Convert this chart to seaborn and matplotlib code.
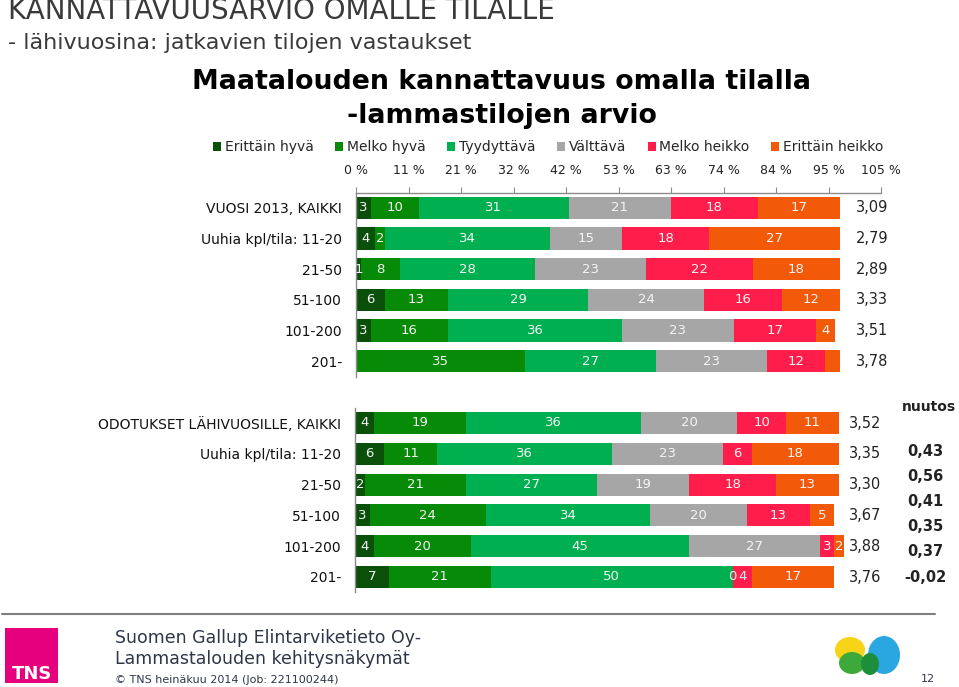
import numpy as np
import pandas as pd
import matplotlib
matplotlib.use("Agg")
import matplotlib.pyplot as plt
import seaborn as sns
from matplotlib.patches import Rectangle, Ellipse, Patch
from matplotlib.lines import Line2D

# ---------------- data ----------------
series = ["Erittäin hyvä", "Melko hyvä", "Tyydyttävä", "Välttävä", "Melko heikko", "Erittäin heikko"]
colors = ["#0a500a", "#078a07", "#00b050", "#a6a6a6", "#ff1e4b", "#f25a0a"]

top_categories = ["VUOSI 2013, KAIKKI", "Uuhia kpl/tila: 11-20", "21-50", "51-100", "101-200", "201-"]
top_erittain_hyva = [3, 4, 1, 6, 3, 0]
top_melko_hyva = [10, 2, 8, 13, 16, 35]
top_tyydyttava = [31, 34, 28, 29, 36, 27]
top_valttava = [21, 15, 23, 24, 23, 23]
top_melko_heikko = [18, 18, 22, 16, 17, 12]
top_erittain_heikko = [17, 27, 18, 12, 4, 3]
top_means = ["3,09", "2,79", "2,89", "3,33", "3,51", "3,78"]
top_hidden_labels = [(5, 5)]

bottom_categories = ["ODOTUKSET LÄHIVUOSILLE, KAIKKI", "Uuhia kpl/tila: 11-20", "21-50", "51-100", "101-200", "201-"]
bottom_erittain_hyva = [4, 6, 2, 3, 4, 7]
bottom_melko_hyva = [19, 11, 21, 24, 20, 21]
bottom_tyydyttava = [36, 36, 27, 34, 45, 50]
bottom_valttava = [20, 23, 19, 20, 27, 0]
bottom_melko_heikko = [10, 6, 18, 13, 3, 4]
bottom_erittain_heikko = [11, 18, 13, 5, 2, 17]
bottom_means = ["3,52", "3,35", "3,30", "3,67", "3,88", "3,76"]

change_header = "nuutos"
changes = ["0,43", "0,56", "0,41", "0,35", "0,37", "-0,02"]

scale_max = 105
scale_step = 10.5

# ---------------- style ----------------
sns.set_style("white")
plt.rcParams["font.family"] = ["DejaVu Sans"]

W, H = 959, 687
fig = plt.figure(figsize=(W / 100, H / 100), dpi=100)
fig.patch.set_facecolor("white")


def fx(x):
    return x / W


def fy(y):
    return 1 - y / H


XMAX = 525 / 4.84  # data units across axes width


def draw(ax, cats, data, means, hidden, show_zero, mean_x):
    df = pd.DataFrame(dict(zip(series, data)), index=cats)
    cum = df.cumsum(axis=1)
    for k in range(len(series) - 1, -1, -1):
        sns.barplot(x=cum[series[k]].values, y=cats, order=cats, orient="h",
                    color=colors[k], saturation=1, width=0.72, ax=ax,
                    edgecolor="none", linewidth=0)
    for i, c in enumerate(cats):
        for k, s in enumerate(series):
            v = df.loc[c, s]
            if (i, k) in hidden:
                continue
            if v == 0 and not show_zero:
                continue
            xc = cum.loc[c, s] - v / 2
            ax.text(xc, i, f"{v}", ha="center", va="center", color="#f4f4f4",
                    fontsize=9.5)
        ax.text(mean_x, i, means[i], ha="center", va="center", fontsize=10.5,
                color="#222222", clip_on=False)
    ax.set_xlim(0, XMAX)
    ax.set_ylim(len(cats) - 0.5, -0.5)
    ax.set_xlabel("")
    ax.set_ylabel("")
    ax.set_xticks([])
    ax.tick_params(axis="y", length=0, pad=10, labelsize=10, labelcolor="#111111")
    for sp in ["top", "right", "bottom"]:
        ax.spines[sp].set_visible(False)
    ax.spines["left"].set_color("#8c8c8c")
    ax.spines["left"].set_linewidth(1)


# top chart
ax_top = fig.add_axes([fx(356), fy(376.5), 525 / W, 184 / H])
draw(ax_top, top_categories,
     [top_erittain_hyva, top_melko_hyva, top_tyydyttava, top_valttava,
      top_melko_heikko, top_erittain_heikko],
     top_means, top_hidden_labels, False, 106.6)

ax_scale = ax_top.twiny()
ax_scale.set_xlim(0, scale_max)
ticks = np.arange(0, scale_max + 0.01, scale_step)
ax_scale.set_xticks(ticks)
ax_scale.set_xticklabels([f"{int(t + 0.5)} %" for t in ticks], fontsize=9, color="#222222")
ax_scale.tick_params(axis="x", direction="out", length=4, color="#8c8c8c", pad=7)
for sp in ["left", "right", "bottom"]:
    ax_scale.spines[sp].set_visible(False)
ax_scale.spines["top"].set_color("#8c8c8c")
ax_scale.spines["top"].set_linewidth(1)

# bottom chart
ax_bot = fig.add_axes([fx(355), fy(592.4), 525 / W, 184.8 / H])
draw(ax_bot, bottom_categories,
     [bottom_erittain_hyva, bottom_melko_hyva, bottom_tyydyttava, bottom_valttava,
      bottom_melko_heikko, bottom_erittain_heikko],
     bottom_means, [], True, 105.4)

ax_bot.text(113.0, -0.52, change_header, ha="left", va="center", fontsize=10,
            fontweight="bold", color="#222222", clip_on=False)
change_rows = np.linspace(0.91, 5.0, len(changes))
for yv, t in zip(change_rows, changes):
    ax_bot.text(117.8, yv, t, ha="center", va="center", fontsize=10.5,
                fontweight="bold", color="#222222", clip_on=False)

# legend
handles = [Patch(facecolor=c, edgecolor="none") for c in colors]
fig.legend(handles, series, loc="center", bbox_to_anchor=(fx(548), fy(147)),
           ncol=6, frameon=False, fontsize=10, handlelength=0.6, handleheight=0.6,
           handletextpad=0.25, columnspacing=1.55)

# chart title
fig.text(fx(502), fy(82), "Maatalouden kannattavuus omalla tilalla", ha="center",
         va="center", fontsize=19.3, fontweight="bold", color="black")
fig.text(fx(502), fy(116), "-lammastilojen arvio", ha="center",
         va="center", fontsize=19.3, fontweight="bold", color="black")

# slide title
fig.text(fx(8), fy(19), "KANNATTAVUUSARVIO OMALLE TILALLE", ha="left", va="baseline",
         fontsize=20, color="#3a3a3a")
fig.text(fx(8), fy(49), "- lähivuosina: jatkavien tilojen vastaukset", ha="left",
         va="baseline", fontsize=16, color="#3a3a3a")

# footer
fig.add_artist(Line2D([fx(2), fx(935)], [fy(614), fy(614)], color="#808080", lw=1.5,
                      transform=fig.transFigure))
fig.add_artist(Rectangle((fx(5), fy(683)), 53 / W, 55 / H, facecolor="#e6007e",
                         edgecolor="none", transform=fig.transFigure))
fig.text(fx(12), fy(679), "TNS", ha="left", va="baseline", fontsize=13,
         fontweight="bold", color="white")
fig.text(fx(115), fy(643), "Suomen Gallup Elintarviketieto Oy-", ha="left",
         va="baseline", fontsize=12.5, color="#2e3648")
fig.text(fx(115), fy(664), "Lammastalouden kehitysnäkymät", ha="left",
         va="baseline", fontsize=12.5, color="#2e3648")
fig.text(fx(115), fy(683), "© TNS heinäkuu 2014 (Job: 221100244)", ha="left",
         va="baseline", fontsize=8, color="#2e3648")
fig.text(fx(921), fy(682), "12", ha="left", va="baseline", fontsize=8, color="#2e3648")

# right logo (approximation)
fig.add_artist(Ellipse((fx(850), fy(650)), 30 / W, 26 / H, facecolor="#f7d417",
                       edgecolor="none", transform=fig.transFigure))
fig.add_artist(Ellipse((fx(852), fy(663)), 26 / W, 22 / H, facecolor="#3da93a",
                       edgecolor="none", transform=fig.transFigure))
fig.add_artist(Ellipse((fx(884), fy(655)), 32 / W, 38 / H, facecolor="#2aa7e0",
                       edgecolor="none", transform=fig.transFigure))
fig.add_artist(Ellipse((fx(870), fy(664)), 18 / W, 22 / H, facecolor="#1d8f3a",
                       edgecolor="none", transform=fig.transFigure))

fig.savefig("out.png", dpi=100, facecolor="white")
